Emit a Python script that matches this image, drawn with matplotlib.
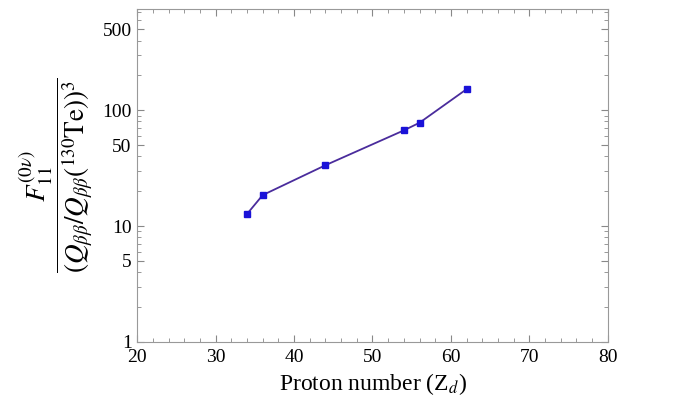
import matplotlib
matplotlib.use("Agg")
import matplotlib.pyplot as plt
from matplotlib.ticker import FixedLocator, NullFormatter

# proton number of daughter nucleus and F11 / (Q/Q(130Te))^3
zd = [34, 36, 44, 54, 56, 62]
f11 = [12.7, 18.5, 33.5, 67, 78, 152]

y_major = [1, 5, 10, 50, 100, 500]
y_minor = [2, 3, 4, 6, 7, 8, 9, 20, 30, 40, 60, 70, 80, 90, 200, 300, 400, 600, 700]
x_major = [20, 30, 40, 50, 60, 70, 80]

plt.rcParams['font.family'] = ['Liberation Serif', 'DejaVu Serif']
plt.rcParams['mathtext.fontset'] = 'stix'

fig = plt.figure(figsize=(6.93, 4.05), dpi=100)
ax = fig.add_axes([0.198, 0.156, 0.679, 0.822])

ax.plot(zd, f11, color='#4a2c9c', lw=1.3, zorder=2)
ax.plot(zd, f11, ls='none', marker='s', ms=4.5, color='#1a12d8', zorder=3)

ax.set_yscale('log')
ax.set_xlim(20, 80)
ax.set_ylim(1, 750)

ax.yaxis.set_major_locator(FixedLocator(y_major))
ax.yaxis.set_minor_locator(FixedLocator(y_minor))
ax.set_yticklabels([str(v) for v in y_major])
ax.yaxis.set_minor_formatter(NullFormatter())
ax.xaxis.set_major_locator(FixedLocator(x_major))
ax.xaxis.set_minor_locator(FixedLocator([v for v in range(20, 81, 2) if v % 10 != 0]))

for s in ax.spines.values():
    s.set_color('#999999')
    s.set_linewidth(0.8)
ax.tick_params(which='both', direction='in', top=True, right=True, color='#888888')
ax.tick_params(which='major', length=5, labelsize=14)
ax.tick_params(axis='y', pad=4)
ax.tick_params(axis='x', pad=5)
ax.tick_params(which='minor', length=3)

ax.set_xlabel(r'Proton number (Z$_d$)', fontsize=17, labelpad=4)
ax.set_ylabel(r'$\dfrac{F_{11}^{(0\nu)}}{(Q_{\beta\beta}/Q_{\beta\beta}(^{130}\mathrm{Te}))^3}$',
              fontsize=19.5, labelpad=5)

fig.savefig('out.png', dpi=100)
